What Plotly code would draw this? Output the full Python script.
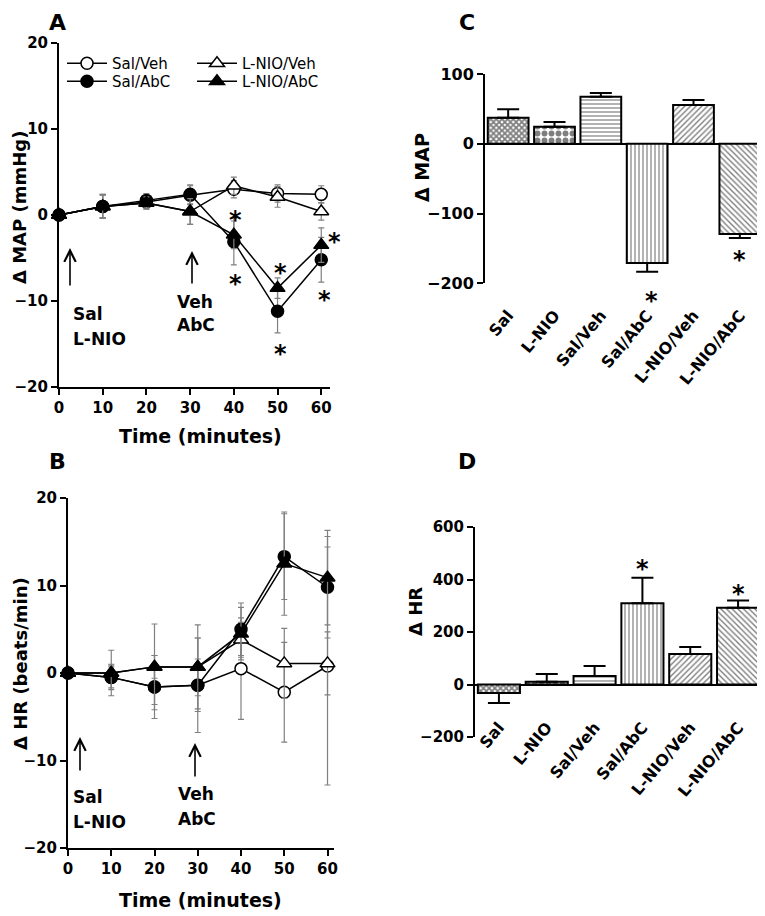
import plotly.graph_objects as go

# ---------------- data ----------------
time_min = [0, 10, 20, 30, 40, 50, 60]

# Panel A: change in MAP (mmHg)
map_sal_veh = [0, 1.0, 1.5, 2.3, 3.0, 2.5, 2.4]
map_sal_veh_err = [0, 1.4, 0.8, 1.1, 1.0, 1.0, 1.0]
map_sal_abc = [0, 1.0, 1.7, 2.4, -3.1, -11.2, -5.2]
map_sal_abc_err = [0, 1.4, 0.8, 1.1, 2.7, 2.5, 2.6]
map_lnio_veh = [0, 1.0, 1.4, 0.4, 3.4, 2.1, 0.4]
map_lnio_veh_err = [0, 1.3, 0.7, 1.5, 1.0, 1.2, 1.0]
map_lnio_abc = [0, 1.0, 1.4, 0.4, -2.3, -8.5, -3.5]
map_lnio_abc_err = [0, 1.3, 0.7, 1.5, 1.6, 1.2, 2.0]

# Panel B: change in HR (beats/min)
hr_sal_veh = [0, -0.5, -1.6, -1.4, 0.5, -2.2, 0.8]
hr_sal_veh_err = [0, 1.2, 2.0, 3.0, 5.8, 5.7, 13.6]
hr_sal_abc = [0, -0.5, -1.6, -1.4, 5.0, 13.3, 9.8]
hr_sal_abc_err = [0, 1.4, 3.6, 5.4, 3.0, 4.9, 5.8]
hr_lnio_veh = [0, 0.0, 0.7, 0.7, 3.8, 1.1, 1.1]
hr_lnio_veh_err = [0, 1.0, 1.3, 3.3, 2.0, 4.0, 3.6]
hr_lnio_abc = [0, 0.0, 0.7, 0.7, 4.5, 12.5, 10.9]
hr_lnio_abc_err = [0, 2.6, 4.9, 4.8, 3.0, 5.9, 5.4]

# Panels C & D: bar groups
groups = ["Sal", "L-NIO", "Sal/Veh", "Sal/AbC", "L-NIO/Veh", "L-NIO/AbC"]
c_map = [37.4, 24.5, 67.5, -170.8, 55.6, -129.3]
c_map_err = [12, 6.7, 5.3, 12.5, 7.2, 5.7]
d_hr = [-32.4, 10.7, 32.4, 310, 116, 292.6]
d_hr_err = [38, 29, 38, 97, 27, 27]

A_ticks = [-20, -10, 0, 10, 20]
B_ticks = [-20, -10, 0, 10, 20]
C_ticks = [-200, -100, 0, 100]
D_ticks = [-200, 0, 200, 400, 600]

# ---------------- styling helpers ----------------
OFF = 8                      # page body margin
W, H = 765 - OFF, 916 - OFF
FONT = "DejaVu Sans, Verdana, sans-serif"


def px(xp):
    return (xp - OFF) / W


def py(yp):
    return 1 - (yp - OFF) / H


BOLD = dict(family=FONT, color="black", weight="bold")

fig = go.Figure()

series_styles = [
    ("Sal/Veh", "circle", "white", "legend"),
    ("L-NIO/Veh", "triangle-up", "white", "legend"),
    ("Sal/AbC", "circle", "black", "legend2"),
    ("L-NIO/AbC", "triangle-up", "black", "legend2"),
]
A_series = {
    "Sal/Veh": (map_sal_veh, map_sal_veh_err),
    "L-NIO/Veh": (map_lnio_veh, map_lnio_veh_err),
    "Sal/AbC": (map_sal_abc, map_sal_abc_err),
    "L-NIO/AbC": (map_lnio_abc, map_lnio_abc_err),
}
B_series = {
    "Sal/Veh": (hr_sal_veh, hr_sal_veh_err),
    "L-NIO/Veh": (hr_lnio_veh, hr_lnio_veh_err),
    "Sal/AbC": (hr_sal_abc, hr_sal_abc_err),
    "L-NIO/AbC": (hr_lnio_abc, hr_lnio_abc_err),
}

for series, xa, ya, show in [(A_series, "x", "y", True), (B_series, "x2", "y2", False)]:
    for name, sym, fill, leg in series_styles:
        vals, errs = series[name]
        fig.add_trace(go.Scatter(
            x=time_min, y=vals, name=name, mode="lines+markers",
            xaxis=xa, yaxis=ya, legend=leg, showlegend=show,
            cliponaxis=False,
            line=dict(color="black", width=1.5),
            marker=dict(symbol=sym, size=12 if sym == "circle" else 13,
                        color=fill, line=dict(color="black", width=1.5)),
            error_y=dict(type="data", array=errs, visible=True,
                         color="#808080", thickness=1.2, width=3),
        ))

# bar panels
pat_shapes = ["x", ".", "-", "|", "/", "\\"]
pat_sizes = [4, 7, 4, 4, 4, 4]
pat_solid = [0.7, 0.55, 0.3, 0.3, 0.35, 0.35]


def bar_trace(vals, errs, xa, ya):
    up = [e if v > 0 else 0 for v, e in zip(vals, errs)]
    dn = [e if v < 0 else 0 for v, e in zip(vals, errs)]
    return go.Bar(
        x=groups, y=vals, xaxis=xa, yaxis=ya, showlegend=False,
        marker=dict(color="white", line=dict(color="black", width=2),
                    pattern=dict(shape=pat_shapes, size=pat_sizes, solidity=pat_solid,
                                 fgcolor="black", bgcolor="white", fillmode="overlay")),
        error_y=dict(type="data", symmetric=False, array=up, arrayminus=dn,
                     color="black", thickness=2, width=11),
    )


fig.add_trace(bar_trace(c_map, c_map_err, "x3", "y3"))
fig.add_trace(bar_trace(d_hr, d_hr_err, "x4", "y4"))

axis_common = dict(showline=True, linecolor="black", linewidth=2, ticks="outside",
                   ticklen=6, tickwidth=2, tickcolor="black", showgrid=False,
                   zeroline=False, automargin=False)

legend_common = dict(orientation="h", xanchor="left", yanchor="top",
                     bgcolor="rgba(0,0,0,0)", font=dict(family=FONT, size=15, color="black"),
                     itemwidth=40, entrywidth=75, entrywidthmode="pixels",
                     tracegroupgap=0, itemclick=False, itemdoubleclick=False)

fig.update_layout(
    width=W, height=H, margin=dict(l=0, r=0, t=0, b=0),
    paper_bgcolor="white", plot_bgcolor="rgba(0,0,0,0)",
    font=dict(family=FONT, color="black"),
    bargap=0.12,
    xaxis=dict(domain=[px(59), px(330)], range=[0, 62], anchor="y",
               tickvals=time_min, tickfont=dict(BOLD, size=15), **axis_common),
    yaxis=dict(domain=[py(387), py(43)], range=[-20, 20], anchor="x",
               tickvals=A_ticks, tickfont=dict(BOLD, size=15), **axis_common),
    xaxis2=dict(domain=[px(68), px(334)], range=[0, 61.5], anchor="y2",
                tickvals=time_min, tickfont=dict(BOLD, size=15), **axis_common),
    yaxis2=dict(domain=[py(848), py(498)], range=[-20, 20], anchor="x2",
                tickvals=B_ticks, tickfont=dict(BOLD, size=15), **axis_common),
    xaxis3=dict(domain=[px(485), px(763)], range=[-0.5, 5.5], anchor="free",
                position=py(302), showline=False, ticks="", showgrid=False,
                zeroline=False, automargin=False, tickangle=-50,
                tickfont=dict(BOLD, size=16)),
    yaxis3=dict(domain=[py(283.3), py(74)], range=[-200, 100], anchor="x3",
                tickvals=C_ticks, tickfont=dict(BOLD, size=16),
                **{**axis_common, "zeroline": True}, zerolinecolor="black", zerolinewidth=2),
    xaxis4=dict(domain=[px(475), px(762)], range=[-0.5, 5.5], anchor="free",
                position=py(714), showline=False, ticks="", showgrid=False,
                zeroline=False, automargin=False, tickangle=-50,
                tickfont=dict(BOLD, size=16)),
    yaxis4=dict(domain=[py(737), py(527)], range=[-200, 600], anchor="x4",
                tickvals=D_ticks, tickfont=dict(BOLD, size=15),
                **{**axis_common, "zeroline": True}, zerolinecolor="black", zerolinewidth=2),
    legend=dict(legend_common, x=px(62), y=py(47)),
    legend2=dict(legend_common, x=px(62), y=py(65)),
)

ann = []


def text(x, y, s, size, angle=0, xanchor="center", yanchor="middle"):
    ann.append(dict(x=px(x), y=py(y), xref="paper", yref="paper", text=s,
                    showarrow=False, textangle=angle, xanchor=xanchor, yanchor=yanchor,
                    font=dict(BOLD, size=size)))


# panel letters
text(57, 8, "A", 22, yanchor="top")
text(57, 461, "B", 22)
text(467, 8, "C", 22, yanchor="top")
text(467, 461, "D", 22)

# axis titles
text(20, 208, "Δ MAP (mmHg)", 18, angle=-90)
text(200, 436, "Time (minutes)", 19)
text(20, 664, "Δ HR (beats/min)", 18, angle=-90)
text(200, 900, "Time (minutes)", 19)
text(422, 168, "Δ MAP", 19, angle=-90)
text(415, 612, "Δ HR", 18, angle=-90)

# treatment labels
text(71, 314, "Sal", 17, xanchor="left")
text(71, 339, "L-NIO", 17, xanchor="left")
text(175, 302, "Veh", 17, xanchor="left")
text(175, 325, "AbC", 17, xanchor="left")
text(71, 797, "Sal", 17, xanchor="left")
text(71, 822, "L-NIO", 17, xanchor="left")
text(176, 794, "Veh", 17, xanchor="left")
text(176, 819, "AbC", 17, xanchor="left")

# arrows
for (x, yh, yt) in [(70, 248, 287), (192, 251, 285), (80, 737, 772), (195, 743, 778)]:
    ann.append(dict(x=px(x), y=py(yh), xref="paper", yref="paper", ax=0, ay=yt - yh,
                    showarrow=True, arrowhead=5, arrowsize=1.4, arrowwidth=1.6,
                    arrowcolor="black", text=""))

# significance stars
star_shift = -7
star_font = dict(BOLD, size=24)
# panel A (x offset in px for the star right of the last point)
for (xx, yy, xs) in [(40, 0.2, 2), (40, -7.2, 2), (50, -5.9, 3), (50, -15.3, 3), (60, -2.3, 13), (60, -9.1, 3)]:
    ann.append(dict(x=xx, y=yy, xref="x", yref="y", text="*", showarrow=False,
                    xshift=xs, yshift=star_shift, font=star_font))
# panel C (star beside the Sal/AbC label sits below the axis range)
ann.append(dict(x=groups[3], y=py(278), xref="x3", yref="paper", text="*", showarrow=False,
                xshift=4, yshift=star_shift, font=star_font))
ann.append(dict(x=groups[5], y=-156, xref="x3", yref="y3", text="*", showarrow=False,
                yshift=star_shift, font=star_font))
for (xx, yy) in [(3, 467), (5, 371)]:
    ann.append(dict(x=groups[xx], y=yy, xref="x4", yref="y4", text="*", showarrow=False,
                    yshift=star_shift, font=star_font))

fig.update_layout(annotations=ann)

fig.write_html("out.html")
